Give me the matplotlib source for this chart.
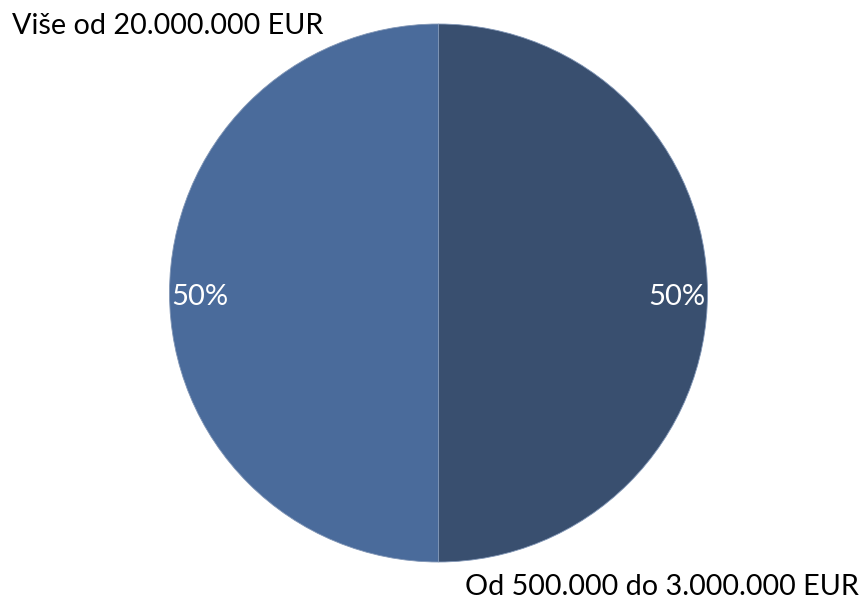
import matplotlib.pyplot as plt

# Slices in drawing order (clockwise from 12 o'clock)
categories = ["Od 500.000 do 3.000.000 EUR", "Više od 20.000.000 EUR"]
shares = [50, 50]
colors = ["#394F6F", "#4A6B9B"]

plt.rcParams['font.family'] = ['Lato', 'DejaVu Sans']

fig = plt.figure(figsize=(8.66, 5.99), dpi=100)
ax = fig.add_axes([0, 0, 1, 1])

W, H = 866, 599
cx, cy, r = 438.5, H - 293, 269

wedges, _, pcts = ax.pie(
    shares, colors=colors, startangle=90, counterclock=False,
    center=(cx, cy), radius=r, autopct='%1.0f%%', pctdistance=0.887,
    wedgeprops=dict(edgecolor='#8196B6', linewidth=0.6),
    textprops=dict(color='white', fontsize=21))

# nudge percentage labels down a little, as in the original
for t in pcts:
    x, y = t.get_position()
    t.set_position((x, y - 4))

ax.set_xlim(0, W)
ax.set_ylim(0, H)
ax.set_aspect('equal')
ax.axis('off')

# category labels
ax.text(12, H - 34, categories[1], fontsize=20.7, color='black', ha='left', va='baseline')
ax.text(859, H - 595, categories[0], fontsize=20.7, color='black', ha='right', va='baseline')

fig.savefig('out.png', dpi=100)
